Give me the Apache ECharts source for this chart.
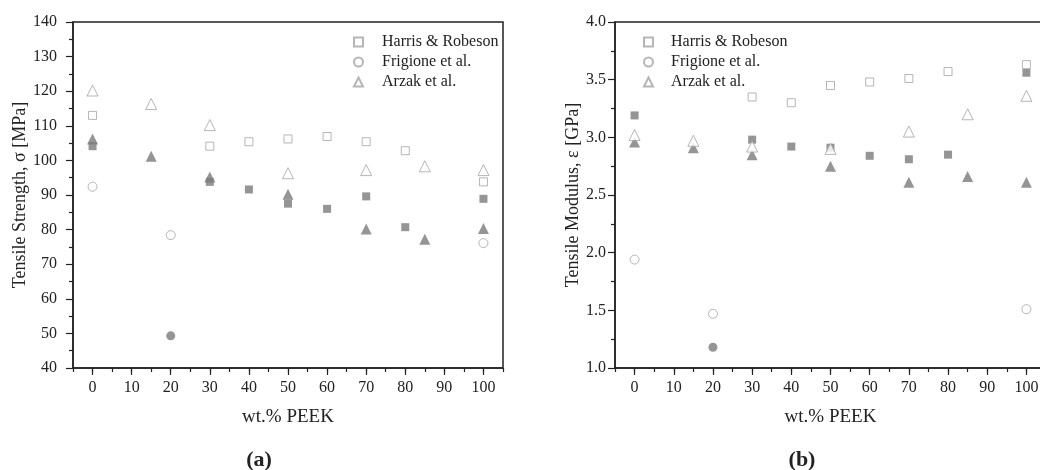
<!DOCTYPE html>
<html>
<head>
<meta charset="utf-8">
<script src="https://cdn.jsdelivr.net/npm/echarts@6/dist/echarts.min.js"></script>
<style>
  html, body { margin: 0; padding: 0; background: #fff; overflow: hidden; }
  #main { width: 1060px; height: 470px; }
</style>
</head>
<body>
<div id="main"></div>
<script>
  // tick labels
  const xTickValues = [0, 10, 20, 30, 40, 50, 60, 70, 80, 90, 100];

  // (a) tensile strength [MPa]
  const harrisX_a = [0, 30, 40, 50, 60, 70, 80, 100];
  const harrisOpen_a = [113.0, 104.1, 105.4, 106.2, 106.9, 105.4, 102.8, 93.8];
  const harrisFill_a = [104.1, 93.8, 91.6, 87.5, 86.0, 89.6, 80.7, 88.9];
  const frigioneX_a = [0, 20, 100];
  const frigioneOpen_a = [92.4, 78.4, 76.1];
  const frigioneFillX_a = [20];
  const frigioneFill_a = [49.3];
  const arzakX_a = [0, 15, 30, 50, 70, 85, 100];
  const arzakOpen_a = [120.2, 116.3, 110.2, 96.3, 97.2, 98.3, 97.2];
  const arzakFill_a = [106.2, 101.2, 95.2, 90.2, 80.2, 77.2, 80.3];

  // (b) tensile modulus [GPa]
  const harrisOpenX_b = [30, 40, 50, 60, 70, 80, 100];
  const harrisOpen_b = [3.35, 3.30, 3.45, 3.48, 3.51, 3.57, 3.63];
  const harrisFillX_b = [0, 30, 40, 50, 60, 70, 80, 100];
  const harrisFill_b = [3.19, 2.98, 2.92, 2.91, 2.84, 2.81, 2.85, 3.56];
  const frigioneX_b = [0, 20, 100];
  const frigioneOpen_b = [1.94, 1.47, 1.51];
  const frigioneFillX_b = [20];
  const frigioneFill_b = [1.18];
  const arzakX_b = [0, 15, 30, 50, 70, 85, 100];
  const arzakOpen_b = [3.02, 2.97, 2.92, 2.90, 3.05, 3.20, 3.36];
  const arzakFill_b = [2.96, 2.91, 2.85, 2.75, 2.61, 2.66, 2.61];

  const names = ['Harris & Robeson', 'Frigione et al.', 'Arzak et al.'];

  const FONT = '"Liberation Serif", "DejaVu Serif", serif';
  const INK = '#222';
  const OPEN = '#a4a4a4';
  const FILL = '#7b7b7b';

  function zip(xs, ys) {
    return xs.map((x, i) => [x, ys[i]]);
  }

  function openSeries(name, symbol, size, xIdx, yIdx, data) {
    return {
      name: name, type: 'scatter', xAxisIndex: xIdx, yAxisIndex: yIdx,
      symbol: symbol, symbolSize: size, z: 3,
      itemStyle: { color: '#fff', borderColor: OPEN, borderWidth: 1 },
      emphasis: { disabled: true },
      data: data
    };
  }
  function fillSeries(name, symbol, size, xIdx, yIdx, data) {
    return {
      name: name, type: 'scatter', xAxisIndex: xIdx, yAxisIndex: yIdx,
      symbol: symbol, symbolSize: size, z: 2,
      itemStyle: { color: FILL },
      emphasis: { disabled: true },
      data: data
    };
  }

  function xAxes(gridIndex) {
    return [
      {
        type: 'value', gridIndex: gridIndex, position: 'bottom',
        min: -5, max: 105,
        name: 'wt.% PEEK', nameLocation: 'middle', nameGap: 40,
        nameTextStyle: { fontFamily: FONT, fontSize: 19, color: INK },
        axisLine: { onZero: false, lineStyle: { color: INK, width: 1.5 } },
        axisTick: { customValues: xTickValues, length: 7, lineStyle: { color: INK, width: 1.2 } },
        axisLabel: { customValues: xTickValues, margin: 12, fontFamily: FONT, fontSize: 16, color: INK },
        splitLine: { show: false }
      },
      {
        type: 'value', gridIndex: gridIndex, position: 'bottom',
        min: -5, max: 105, interval: 5,
        axisLine: { show: false, onZero: false },
        axisTick: { length: 4, lineStyle: { color: INK, width: 1.2 } },
        axisLabel: { show: false },
        splitLine: { show: false }
      }
    ];
  }

  function yAxis(gridIndex, min, max, interval, name, gap, margin, fmt) {
    return {
      type: 'value', gridIndex: gridIndex, min: min, max: max, interval: interval,
      name: name, nameLocation: 'middle', nameGap: gap,
      nameTextStyle: { fontFamily: FONT, fontSize: 18, color: INK },
      axisLine: { show: true, onZero: false, lineStyle: { color: INK, width: 1.5 } },
      axisTick: { length: 7, lineStyle: { color: INK, width: 1.2 } },
      minorTick: { show: true, splitNumber: 2, length: 4, lineStyle: { color: INK, width: 1.2 } },
      axisLabel: { margin: margin, fontFamily: FONT, fontSize: 16, color: INK, formatter: fmt },
      splitLine: { show: false }
    };
  }

  function legend(left, pad) {
    return {
      data: names, orient: 'vertical', left: left, top: 29,
      itemWidth: 9, itemHeight: 9, itemGap: 4,
      selectedMode: false,
      textStyle: { fontFamily: FONT, fontSize: 16, color: INK, padding: [0, 0, 0, pad] }
    };
  }

  const chart = echarts.init(document.getElementById('main'));
  chart.setOption({
    animation: false,
    backgroundColor: '#fff',
    grid: [
      { left: 73, top: 22, width: 430, height: 346, show: true, borderColor: INK, borderWidth: 1.5, backgroundColor: 'transparent' },
      { left: 615, top: 22, width: 431, height: 346, show: true, borderColor: INK, borderWidth: 1.5, backgroundColor: 'transparent' }
    ],
    xAxis: xAxes(0).concat(xAxes(1)),
    yAxis: [
      yAxis(0, 40, 140, 10, 'Tensile Strength, σ [MPa]', 32, 16, v => String(v)),
      yAxis(1, 1.0, 4.0, 0.5, 'Tensile Modulus, ε [GPa]', 31, 9, v => v.toFixed(1))
    ],
    legend: [legend(348, 14), legend(638, 13)],
    title: [
      {
        text: '{p|(}{b|a}{p|)}', left: 254, top: 444, textAlign: 'center',
        textStyle: { rich: {
          p: { fontFamily: FONT, fontSize: 22, color: INK },
          b: { fontFamily: FONT, fontSize: 22, fontWeight: 'bold', color: INK }
        } }
      },
      {
        text: '{p|(}{b|b}{p|)}', left: 797, top: 444, textAlign: 'center',
        textStyle: { rich: {
          p: { fontFamily: FONT, fontSize: 22, color: INK },
          b: { fontFamily: FONT, fontSize: 22, fontWeight: 'bold', color: INK }
        } }
      }
    ],
    series: [
      openSeries(names[0], 'rect', 8, 0, 0, zip(harrisX_a, harrisOpen_a)),
      openSeries(names[1], 'circle', 9, 0, 0, zip(frigioneX_a, frigioneOpen_a)),
      openSeries(names[2], 'triangle', 11, 0, 0, zip(arzakX_a, arzakOpen_a)),
      fillSeries('Harris & Robeson (filled)', 'rect', 8, 0, 0, zip(harrisX_a, harrisFill_a)),
      fillSeries('Frigione et al. (filled)', 'circle', 9, 0, 0, zip(frigioneFillX_a, frigioneFill_a)),
      fillSeries('Arzak et al. (filled)', 'triangle', 11, 0, 0, zip(arzakX_a, arzakFill_a)),

      openSeries(names[0], 'rect', 8, 2, 1, zip(harrisOpenX_b, harrisOpen_b)),
      openSeries(names[1], 'circle', 9, 2, 1, zip(frigioneX_b, frigioneOpen_b)),
      openSeries(names[2], 'triangle', 11, 2, 1, zip(arzakX_b, arzakOpen_b)),
      fillSeries('Harris & Robeson (filled)', 'rect', 8, 2, 1, zip(harrisFillX_b, harrisFill_b)),
      fillSeries('Frigione et al. (filled)', 'circle', 9, 2, 1, zip(frigioneFillX_b, frigioneFill_b)),
      fillSeries('Arzak et al. (filled)', 'triangle', 11, 2, 1, zip(arzakX_b, arzakFill_b))
    ]
  });
</script>
</body>
</html>
